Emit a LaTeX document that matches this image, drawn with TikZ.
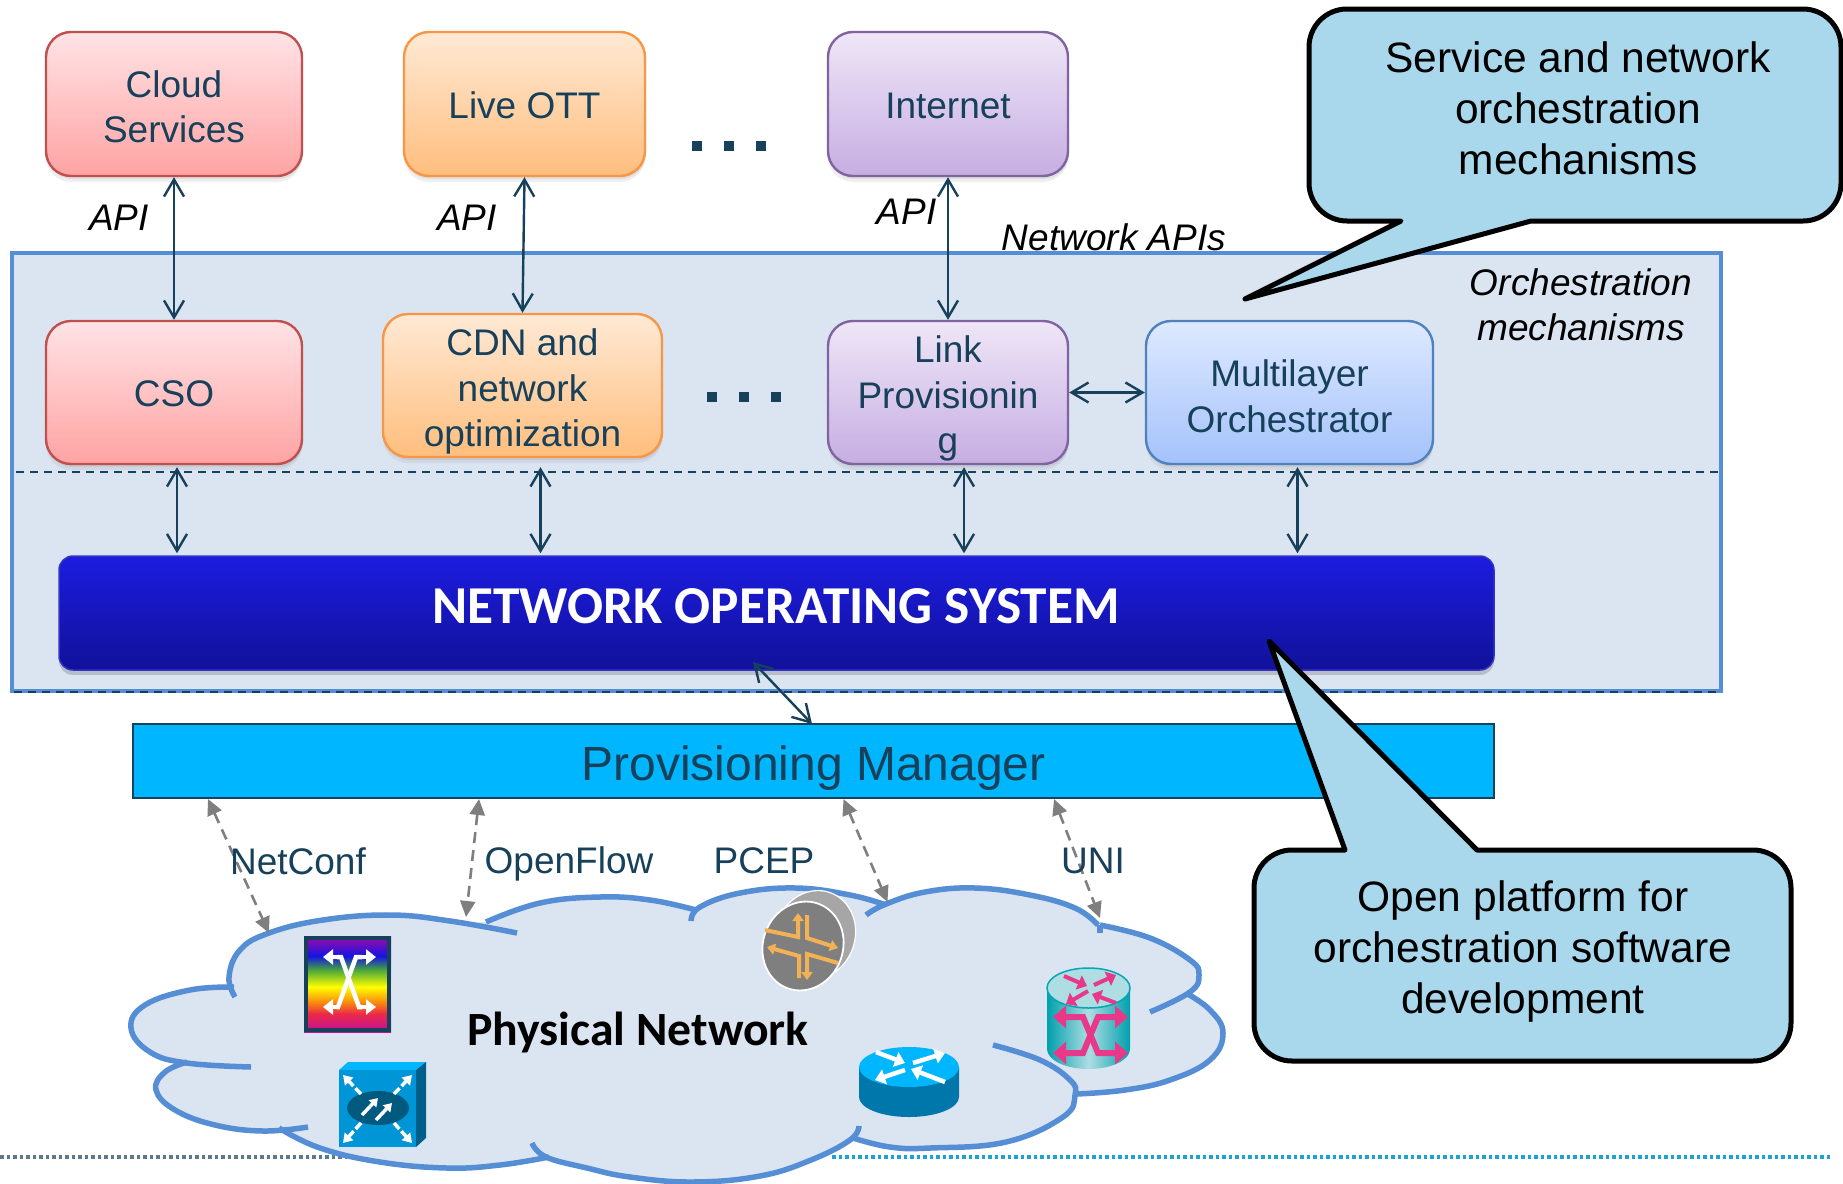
\documentclass[tikz,border=0pt]{standalone}
\usepackage{fontspec}
\setmainfont{Liberation Sans}
\newfontfamily\calib{Carlito}
\usetikzlibrary{arrows.meta,shadows,shapes.geometric}
\definecolor{txt}{HTML}{17405A}
\definecolor{outerb}{HTML}{558ED5}
\definecolor{panel}{HTML}{DBE5F1}
\definecolor{callfill}{HTML}{A9D8EC}
\definecolor{pmblue}{HTML}{00B6FF}
\definecolor{arrowgray}{HTML}{7F7F7F}
\definecolor{pinkx}{HTML}{E8388A}
\definecolor{juno}{HTML}{F2B155}
\definecolor{redb}{HTML}{C0504D}\definecolor{redt}{HTML}{FFE3E6}\definecolor{redd}{HTML}{FFA3A3}
\definecolor{orb}{HTML}{F79646}\definecolor{ort}{HTML}{FFE9D5}\definecolor{ord}{HTML}{FFBE7D}
\definecolor{vib}{HTML}{8064A2}\definecolor{vit}{HTML}{EFE6F7}\definecolor{vid}{HTML}{C6AEE2}
\definecolor{blb}{HTML}{4F81BD}\definecolor{blt}{HTML}{DEE9FF}\definecolor{bld}{HTML}{A4C2FB}
\definecolor{rbA}{HTML}{C9128F}\definecolor{rbB}{HTML}{EB2A48}\definecolor{rbC}{HTML}{F88210}
\definecolor{rbD}{HTML}{FFFF00}\definecolor{rbE}{HTML}{46A53C}\definecolor{rbF}{HTML}{1414E1}\definecolor{rbG}{HTML}{820CB4}
\definecolor{boxfront}{HTML}{0095D6}\definecolor{boxside}{HTML}{005F8A}\definecolor{boxell}{HTML}{005A80}
\definecolor{ciscob}{HTML}{0077AA}
\definecolor{tealA}{HTML}{00A0AD}\definecolor{tealB}{HTML}{AEDDE2}\definecolor{tealC}{HTML}{00A8B5}
\definecolor{nost}{HTML}{1C1CE0}\definecolor{nosd}{HTML}{11119A}\definecolor{nosb}{HTML}{3333C4}\definecolor{noss}{HTML}{B8BEC8}
\pgfdeclareverticalshading{rainbowv}{100bp}{color(0bp)=(rbA);color(26.5bp)=(rbA);color(34.5bp)=(rbB);color(40bp)=(rbC);color(48.5bp)=(rbD);color(57.5bp)=(rbE);color(64.5bp)=(rbF);color(72.5bp)=(rbG);color(100bp)=(rbG)}
\newcommand\tf{\fontsize{37}{45.5}\selectfont}
\newcommand\dn[1]{\rule{0pt}{#1pt}}
\newcommand\lobefill[1]{\fill[panel] (640,1030) -- plot[smooth,tension=0.7] coordinates {#1} -- cycle;}
\newcommand\lobedraw[1]{\draw[outerb,line width=5.5pt] plot[smooth,tension=0.7] coordinates {#1};}
\newcommand\cloudlobes[1]{%
#1{(235,997)(229,977)(240,950)(269,933)(323,920)(390,915)(450,921)(517,933)}
#1{(486,922)(540,903)(600,897)(650,900)(696,910)}
#1{(691,921)(700,907)(740,893)(796,888)(850,895)(886,905)}
#1{(866,915)(886,904)(925,892)(975,888)(1030,895)(1075,908)(1098,925)}
#1{(1100,933)(1100,925)}
#1{(1100,925)(1150,938)(1190,960)(1199,975)(1190,992)(1150,1012)}
#1{(1186,993)(1210,1010)(1223,1033)(1210,1060)(1170,1080)(1125,1090)(1077,1094)}
#1{(993,1045)(1040,1060)(1070,1080)(1075,1095)(1063,1117)(1006,1142)(930,1148)(890,1147)(853,1138)}
#1{(859,1126)(850,1140)(811,1160)(760,1176)(693,1182)(630,1177)(587,1168)(546,1157)(532,1143)}
#1{(549,1157)(500,1165)(447,1168)(380,1162)(320,1148)(279,1128)}
#1{(308,1127)(263,1131)(215,1125)(175,1110)(156,1090)(165,1072)(187,1062)}
#1{(251,1067)(187,1063)(150,1052)(131,1028)(145,1005)(190,990)(234,987)}
}
\tikzset{
 x=1pt,y=-1pt,
 box/.style={draw,line width=2.4pt,rounded corners=25pt,align=center,text=txt,inner sep=0pt,font=\tf,
   drop shadow={opacity=.14,shadow xshift=1pt,shadow yshift=-3pt},drop shadow={opacity=.12,shadow xshift=0pt,shadow yshift=-6pt}},
 redbox/.style={box,draw=redb,top color=redt,bottom color=redd},
 orbox/.style={box,draw=orb,top color=ort,bottom color=ord},
 vibox/.style={box,draw=vib,top color=vit,bottom color=vid},
 blbox/.style={box,draw=blb,top color=blt,bottom color=bld},
 lab/.style={text=txt,font=\tf,inner sep=0pt},
 ilab/.style={text=black,font=\tf\itshape,inner sep=0pt,align=center},
 biarrow/.style={txt,line width=2.4pt,{Straight Barb[length=17pt,width=20pt,line width=2.4pt]}-{Straight Barb[length=17pt,width=20pt,line width=2.4pt]}},
 grayarrow/.style={arrowgray,line width=2.6pt,dash pattern=on 11pt off 7pt,{Triangle[length=16pt,width=15pt]}-{Triangle[length=16pt,width=15pt]}},
 callout/.style={draw=black,fill=callfill,line width=5pt,line join=round},
 calltext/.style={text=black,font=\fontsize{42.5}{51}\selectfont,align=center,inner sep=0pt},
 icw/.style={white,line width=4pt,-{Triangle[length=10pt,width=15pt]}},
 icp/.style={pinkx,line width=6pt,-{Triangle[length=13pt,width=22pt]}},
 icps/.style={pinkx,line width=4pt,-{Triangle[length=9pt,width=15pt]}},
 ico/.style={juno,line width=4pt,-{Triangle[length=8pt,width=11pt]}},
 dotmark/.style={fill=txt,minimum size=10pt,inner sep=0pt},
}
\begin{document}
\begin{tikzpicture}
\useasboundingbox (0,0) rectangle (1843,1183);
\fill[white] (0,0) rectangle (1843,1183);

% outer panel
\node[draw=outerb,fill=panel,line width=4pt,minimum width=1709pt,minimum height=438pt,inner sep=0pt] (panel) at (866.5,472) {};
\coordinate (sepL) at (16,472);
\coordinate (sepR) at (1721,472);
\draw[txt,line width=1.8pt,dash pattern=on 8pt off 6pt] (sepL) -- (sepR);
\coordinate (sepBL) at (14,692);
\coordinate (sepBR) at (1721,692);
\draw[txt,line width=1.8pt,dash pattern=on 8pt off 6pt] (sepBL) -- (sepBR);

% upper boxes
\node[redbox,minimum width=256pt,minimum height=144pt] (cloud) at (174,104) {\dn{32}Cloud\\Services};
\node[orbox,minimum width=241pt,minimum height=144pt] (ott) at (524.5,104) {\dn{29}Live OTT};
\node[vibox,minimum width=240pt,minimum height=144pt] (inet) at (948,104) {\dn{29}Internet};

% ellipsis marks
\node[dotmark] (d1) at (697,146) {};
\node[dotmark] (d2) at (729,146) {};
\node[dotmark] (d3) at (761,146) {};
\node[dotmark] (d4) at (712,397) {};
\node[dotmark] (d5) at (744,397) {};
\node[dotmark] (d6) at (776,397) {};

% lower boxes
\node[redbox,minimum width=256pt,minimum height=143pt] (cso) at (174,392.5) {\dn{29}CSO};
\node[orbox,minimum width=279pt,minimum height=143pt] (cdn) at (522.5,385.5) {\dn{39}CDN and\\network\\optimization};
\node[vibox,minimum width=240pt,minimum height=143pt] (link) at (948,392.5) {\dn{39}Link\\Provisionin\\g};
\node[blbox,minimum width=287pt,minimum height=143pt] (multi) at (1289.5,392.5) {\dn{34}Multilayer\\Orchestrator};

% NOS and PM
\fill[noss,rounded corners=14pt] (59,566) rectangle (1494,675);
\node[draw=nosb,line width=1.5pt,rounded corners=14pt,top color=nost,bottom color=nosd,minimum width=1435pt,minimum height=114pt,inner sep=0pt] (nos) at (776.5,613) {};
\node[text=white,font=\calib\bfseries\fontsize{53.3}{60}\selectfont,inner sep=0pt] (nostext) at (776,606) {NETWORK OPERATING SYSTEM};
\node[draw=txt,line width=2pt,fill=pmblue,minimum width=1361pt,minimum height=74pt,inner sep=0pt,text=txt,font=\fontsize{48}{56}\selectfont] (pm) at (813.5,761) {\dn{49}Provisioning Manager};

% arrows
\draw[biarrow] (cloud.south) -- (cso.north);
\draw[biarrow] (ott.south) -- (cdn.north);
\draw[biarrow] (inet.south) -- (link.north);
\draw[biarrow] ([xshift=3pt,yshift=-2pt]cso.south) -- ([xshift=3pt,yshift=2pt]cso.south |- nos.north);
\draw[biarrow] ([xshift=18pt,yshift=-9pt]cdn.south) -- ([xshift=18pt,yshift=2pt]cdn.south |- nos.north);
\draw[biarrow] ([xshift=16pt,yshift=-2pt]link.south) -- ([xshift=16pt,yshift=2pt]link.south |- nos.north);
\draw[biarrow] ([xshift=8pt,yshift=-2pt]multi.south) -- ([xshift=8pt,yshift=2pt]multi.south |- nos.north);
\draw[biarrow] (link.east) -- (multi.west);
\coordinate (nosA) at (753,662);
\coordinate (pmA) at (812,724);
\draw[biarrow] (nosA) -- (pmA);

% bottom dotted rule
\coordinate (dotA) at (0,1157);
\coordinate (dotB) at (347,1157);
\coordinate (dotC) at (832,1157);
\coordinate (dotD) at (1830,1157);
\draw[color=txt!70,line width=4.5pt,dash pattern=on 3.5pt off 3pt] (dotA) -- (dotB);
\draw[color=cyan!75!teal,line width=4.5pt,dash pattern=on 3.5pt off 3pt] (dotC) -- (dotD);

% cloud
\cloudlobes\lobefill
\fill[panel] (235,997) -- (269,933) -- (486,922) -- (696,910) -- (886,905) -- (1100,925) -- (1186,993) -- (1077,1094) -- (853,1138) -- (532,1143) -- (279,1128) -- (187,1062) -- cycle;
\cloudlobes\lobedraw

% gray protocol arrows
\coordinate (a1) at (208,799); \coordinate (b1) at (269,933);
\coordinate (a2) at (479,799); \coordinate (b2) at (466,917);
\coordinate (a3) at (843.5,799); \coordinate (b3) at (887.5,902);
\coordinate (a4) at (1054,799); \coordinate (b4) at (1100,918);
\draw[grayarrow] (a1) -- (b1);
\draw[grayarrow] (a2) -- (b2);
\draw[grayarrow] (a3) -- (b3);
\draw[grayarrow] (a4) -- (b4);
\node[lab] (l1) at (298,861) {NetConf};
\node[lab] (l2) at (569,863.5) {OpenFlow};
\node[lab] (l3) at (764,861) {PCEP};
\node[lab] (l4) at (1093,861) {UNI};
\node[text=black,font=\calib\bfseries\fontsize{47.7}{54}\selectfont,inner sep=0pt] (phys) at (638,1032) {Physical Network};

% italic labels
\node[ilab] (api1) at (119,218) {API};
\node[ilab] (api2) at (467,218) {API};
\node[ilab] (api3) at (906.5,212) {API};
\node[ilab] (napi) at (1114,237) {Network APIs};
\node[ilab] (orch) at (1581,305) {Orchestration\\mechanisms};

% rainbow switch
\shade[shading=rainbowv] (304,936) rectangle (391,1032);
\draw[txt,line width=3.5pt] (306,938) rectangle (389,1030);
\draw[white,line width=4.5pt] (337,957) -- (341,957) -- (359,1007) -- (362,1007);
\draw[white,line width=4.5pt] (362,957) -- (356,957) -- (338,1007) -- (337,1007);
\draw[icw] (338,957) -- (323,957);
\draw[icw] (358,957) -- (376,957);
\draw[icw] (338,1007) -- (323,1007);
\draw[icw] (358,1007) -- (376,1007);

% blue box switch
\fill[pmblue] (339,1070) -- (348,1062) -- (426,1062) -- (416,1070) -- cycle;
\fill[boxfront] (339,1070) rectangle (416,1147);
\fill[boxside] (416,1070) -- (426,1062) -- (426,1138) -- (416,1147) -- cycle;
\fill[boxell] (378,1108) ellipse [x radius=31,y radius=17];
\draw[white,line width=3.5pt,dash pattern=on 8pt off 3pt,-{Triangle[length=9pt,width=11pt]}] (361,1094) -- (343,1075);
\draw[white,line width=3.5pt,dash pattern=on 8pt off 3pt,-{Triangle[length=9pt,width=11pt]}] (394,1094) -- (412,1075);
\draw[white,line width=3.5pt,dash pattern=on 8pt off 3pt,-{Triangle[length=9pt,width=11pt]}] (361,1123) -- (343,1143);
\draw[white,line width=3.5pt,dash pattern=on 8pt off 3pt,-{Triangle[length=9pt,width=11pt]}] (394,1123) -- (412,1143);
\draw[white,line width=3.5pt,-{Triangle[length=8pt,width=10pt]}] (362,1115) -- (378,1098);
\draw[white,line width=3.5pt,-{Triangle[length=8pt,width=10pt]}] (376,1120) -- (392,1103);

% juniper router
\fill[gray!70,draw=white,line width=1.2pt,rotate around={-20:(815,935)}] (815,935) ellipse [x radius=40,y radius=45];
\fill[arrowgray,draw=white,line width=1.8pt,rotate around={-20:(803,946)}] (803,946) ellipse [x radius=40,y radius=45];
\draw[ico] (765,930) -- (798,937) -- (798,913);
\draw[ico] (807,915) -- (807,938) -- (838,948);
\draw[ico] (799,978) -- (799,956) -- (767,947);
\draw[ico] (838,963) -- (807,954) -- (807,980);

% cisco router
\fill[ciscob] (859,1067) -- (859,1097) arc[start angle=180,end angle=0,x radius=50,y radius=20] -- (959,1067) -- cycle;
\fill[pmblue] (909,1067) ellipse [x radius=50,y radius=20];
\draw[icw,line width=4.5pt] (876,1052) -- (905,1063);
\draw[icw,line width=4.5pt] (913,1063) -- (945,1053);
\draw[icw,line width=4.5pt] (905,1070) -- (875,1080);
\draw[icw,line width=4.5pt] (945,1082) -- (911,1069);

% teal cross-connect
\shade[left color=tealA,right color=tealA,middle color=tealB] (1047,988) -- (1047,1049) arc[start angle=180,end angle=0,x radius=41.5,y radius=20] -- (1130,988) -- cycle;
\draw[fill=tealB,draw=tealC,line width=1.5pt] (1088.5,988) ellipse [x radius=41.5,y radius=20];
\draw[pinkx,line width=6pt] (1064,1017) -- (1083,1017) -- (1098,1053) -- (1116,1053);
\draw[pinkx,line width=6pt] (1116,1017) -- (1098,1017) -- (1083,1053) -- (1064,1053);
\draw[icp] (1072,1017) -- (1053,1017);
\draw[icp] (1108,1017) -- (1128,1017);
\draw[icp] (1072,1053) -- (1053,1053);
\draw[icp] (1108,1053) -- (1128,1053);
\draw[icps] (1064,976) -- (1087,986);
\draw[icps] (1094,985) -- (1116,975);
\draw[icps] (1088,991) -- (1066,1004);
\draw[icps] (1116,1003) -- (1092,994);

% callouts
\draw[callout] (1401,221) -- (1245,299) -- (1531,221) -- (1803,221) .. controls (1824,221) and (1841,204) .. (1841,183) -- (1841,47) .. controls (1841,26) and (1824,9) .. (1803,9) -- (1347,9) .. controls (1326,9) and (1309,26) .. (1309,47) -- (1309,183) .. controls (1309,204) and (1326,221) .. (1347,221) -- cycle;
\node[calltext] (ctext1) at (1578,108) {Service and network\\orchestration\\mechanisms};
\draw[callout] (1345,850) -- (1269,641) -- (1477,850) -- (1753,850) .. controls (1774,850) and (1791,867) .. (1791,888) -- (1791,1023) .. controls (1791,1044) and (1774,1061) .. (1753,1061) -- (1292,1061) .. controls (1271,1061) and (1254,1044) .. (1254,1023) -- (1254,888) .. controls (1254,867) and (1271,850) .. (1292,850) -- cycle;
\node[calltext] (ctext2) at (1523,951.5) {Open platform for\\orchestration software\\development};
\end{tikzpicture}
\end{document}
